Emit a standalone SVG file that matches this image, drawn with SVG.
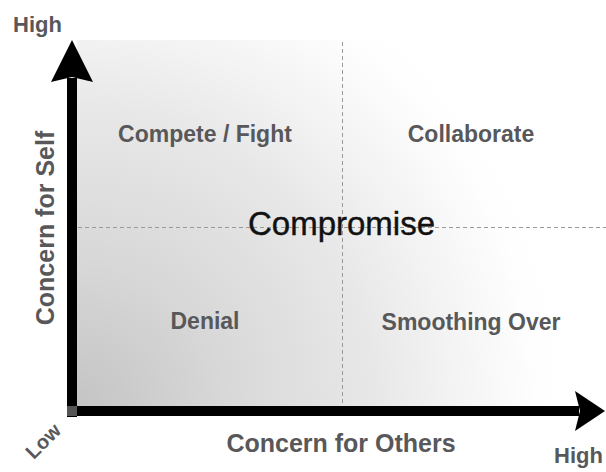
<svg xmlns="http://www.w3.org/2000/svg" width="606" height="472" viewBox="0 0 606 472">
  <style>
    .lbl { font-family: "Liberation Sans", Arial, sans-serif; font-weight: bold; fill: #58585a; }
    .q { font-size: 23px; text-anchor: middle; }
    .axis { font-size: 25px; text-anchor: middle; }
    .end { font-size: 22px; }
    .dash { stroke: #9a9a9a; stroke-width: 1; stroke-dasharray: 4 3; fill: none; }
  </style>
  <defs>
    <radialGradient id="bg" gradientUnits="userSpaceOnUse" cx="77" cy="407" r="500">
      <stop offset="0" stop-color="#c4c4c4"/>
      <stop offset="0.3" stop-color="#d8d8d8"/>
      <stop offset="0.6" stop-color="#e8e8e8"/>
      <stop offset="0.75" stop-color="#f3f3f3"/>
      <stop offset="0.92" stop-color="#fefefe"/>
      <stop offset="1" stop-color="#ffffff"/>
    </radialGradient>
  </defs>
  <rect width="606" height="472" fill="#ffffff"/>
  <rect id="field" x="77" y="40" width="529" height="367" fill="url(#bg)"/>

  <g id="grid">
    <line class="dash" x1="342.5" y1="42" x2="342.5" y2="406"/>
    <line class="dash" x1="78" y1="227.5" x2="606" y2="227.5"/>
  </g>

  <g id="connectors">
    <rect x="67" y="78" width="10" height="339" fill="#000"/>
    <path d="M72,40 L93,82 L72,77 L51,82 Z" fill="#000"/>
    <rect x="67" y="406" width="512" height="10" fill="#000"/>
    <path d="M605,411 L575,391 L580,411 L575,431 Z" fill="#000"/>
    <rect x="67" y="406" width="10" height="10" fill="#555"/>
  </g>

  <g id="compete"><text class="lbl q" x="205" y="142">Compete / Fight</text></g>
  <g id="collaborate"><text class="lbl q" x="471" y="142">Collaborate</text></g>
  <g id="denial"><text class="lbl q" x="205" y="329">Denial</text></g>
  <g id="smoothing"><text class="lbl q" x="471" y="330">Smoothing Over</text></g>
  <g id="compromise"><text x="341.5" y="235" font-family="Liberation Sans, Arial, sans-serif" font-size="33" text-anchor="middle" fill="#111" stroke="#111" stroke-width="0.4">Compromise</text></g>

  <g id="labels">
    <text class="lbl end" x="13" y="32">High</text>
    <text class="lbl end" x="554" y="463">High</text>
    <text class="lbl" font-size="20" text-anchor="middle" transform="translate(48,446) rotate(-45)">Low</text>
    <text class="lbl axis" x="341" y="452">Concern for Others</text>
    <text class="lbl axis" font-size="26" transform="translate(54,228) rotate(-90)">Concern for Self</text>
  </g>
</svg>
